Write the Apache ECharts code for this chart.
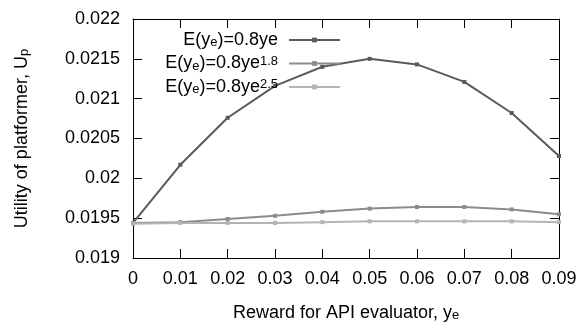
<!DOCTYPE html>
<html>
<head>
<meta charset="utf-8">
<script src="https://cdn.jsdelivr.net/npm/echarts@6/dist/echarts.min.js"></script>
<style>
  html, body { margin: 0; padding: 0; background: #fff; }
  #chart { width: 587px; height: 327px; }
</style>
</head>
<body>
<div id="chart"></div>
<script>
// reward for API evaluator (x categories)
const rewards = ['0', '0.01', '0.02', '0.03', '0.04', '0.05', '0.06', '0.07', '0.08', '0.09'];

// utility of platformer for the three E(ye) forms
const linearUtility = [0.01944, 0.02017, 0.02076, 0.02116, 0.02140, 0.02150, 0.02143, 0.02121, 0.02082, 0.02028];
const pow18Utility = [0.01944, 0.01945, 0.01949, 0.01953, 0.01958, 0.01962, 0.01964, 0.01964, 0.01961, 0.01955];
const pow25Utility = [0.01943, 0.01944, 0.01944, 0.01944, 0.01945, 0.01946, 0.01946, 0.01946, 0.01946, 0.01945];

const seriesNames = ['lin', 'p18', 'p25'];
const legendLabels = {
  lin: 'E(y{sub|e})=0.8ye',
  p18: 'E(y{sub|e})=0.8ye{sup|1.8}',
  p25: 'E(y{sub|e})=0.8ye{sup|2.5}'
};

const font = 'Liberation Sans, Arial, sans-serif';
const chart = echarts.init(document.getElementById('chart'));

const richSubSup = {
  sub: { fontSize: 13, fontFamily: font, color: '#000', lineHeight: 20, padding: [5, 0, 0, 0] },
  sup: { fontSize: 13, fontFamily: font, color: '#000', lineHeight: 20, padding: [0, 0, 5, 0] }
};

function lineSeries(name, data, color) {
  return {
    name: name,
    type: 'line',
    data: data,
    symbol: 'rect',
    symbolSize: 4,
    lineStyle: { width: 2, color: color },
    itemStyle: { color: color },
    animation: false
  };
}

chart.setOption({
  animation: false,
  textStyle: { fontFamily: font },
  grid: { left: 133, right: 28, top: 19, bottom: 69 },
  title: {
    text: 'Reward for API evaluator, y{sub|e}',
    left: 228,
    top: 298,
    textStyle: {
      fontSize: 18, fontWeight: 'normal', color: '#000', fontFamily: font,
      rich: richSubSup
    }
  },
  legend: {
    orient: 'vertical',
    right: 246,
    top: 30,
    padding: 0,
    align: 'right',
    itemWidth: 51,
    itemHeight: 6,
    itemGap: 3.5,
    data: seriesNames,
    formatter: function (n) { return legendLabels[n]; },
    textStyle: {
      fontSize: 18, color: '#000', fontFamily: font, lineHeight: 20,
      padding: [0, 6, 0, 0],
      rich: richSubSup
    }
  },
  xAxis: [
    {
      type: 'category',
      data: rewards,
      boundaryGap: false,
      axisLine: { lineStyle: { color: '#000', width: 1 } },
      axisTick: { inside: true, length: 9, alignWithLabel: true, lineStyle: { color: '#000' } },
      axisLabel: { fontSize: 18, color: '#000', margin: 12, fontFamily: font },
      splitLine: { show: false }
    },
    {
      type: 'category',
      data: rewards,
      position: 'top',
      boundaryGap: false,
      axisLine: { lineStyle: { color: '#000', width: 1 } },
      axisTick: { inside: true, length: 9, lineStyle: { color: '#000' } },
      axisLabel: { show: false },
      splitLine: { show: false }
    }
  ],
  yAxis: [
    {
      type: 'value',
      min: 0.019,
      max: 0.022,
      interval: 0.0005,
      name: 'Utility of platformer, U{sub|p}',
      nameLocation: 'middle',
      nameRotate: 90,
      nameGap: 101,
      nameTextStyle: { fontSize: 18, color: '#000', fontFamily: font, rich: richSubSup },
      axisLine: { show: true, lineStyle: { color: '#000', width: 1 } },
      axisTick: { show: true, inside: true, length: 9, lineStyle: { color: '#000' } },
      axisLabel: { fontSize: 18, color: '#000', margin: 13, fontFamily: font },
      splitLine: { show: false }
    },
    {
      type: 'value',
      min: 0.019,
      max: 0.022,
      interval: 0.0005,
      position: 'right',
      axisLine: { show: true, lineStyle: { color: '#000', width: 1 } },
      axisTick: { show: true, inside: true, length: 9, lineStyle: { color: '#000' } },
      axisLabel: { show: false },
      splitLine: { show: false }
    }
  ],
  series: [
    lineSeries('lin', linearUtility, '#5a5a5a'),
    lineSeries('p18', pow18Utility, '#8c8c8c'),
    lineSeries('p25', pow25Utility, '#b4b4b4')
  ]
});
</script>
</body>
</html>
